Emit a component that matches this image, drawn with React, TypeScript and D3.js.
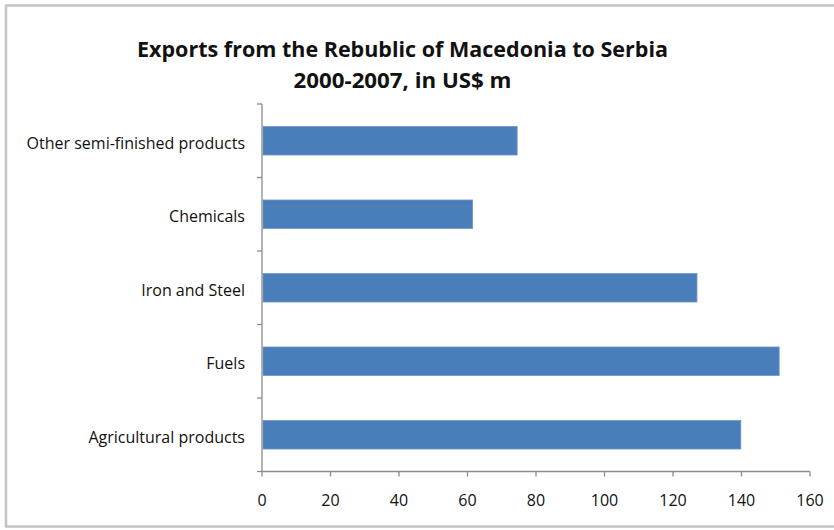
import React, { useEffect, useRef } from "react";
import * as d3 from "d3";

const categories = [
  "Other semi-finished products",
  "Chemicals",
  "Iron and Steel",
  "Fuels",
  "Agricultural products",
];
const values = [74.5, 61.5, 127, 151, 139.8];
const xTicks = [0, 20, 40, 60, 80, 100, 120, 140, 160];
const titleLines = ["Exports from the Rebublic of Macedonia to Serbia", "2000-2007, in US$ m"];

const W = 834;
const H = 530;

export default function App() {
  const ref = useRef<SVGSVGElement | null>(null);

  useEffect(() => {
    const svg = d3.select(ref.current);
    svg.selectAll("*").remove();

    const x = d3.scaleLinear().domain([0, 160]).range([262, 810]);
    const y = d3
      .scaleBand<string>()
      .domain(categories)
      .range([104, 471.5])
      .paddingInner(0.612)
      .paddingOuter(0.306);

    // border
    svg
      .append("rect")
      .attr("x", 6)
      .attr("y", 5.5)
      .attr("width", 840)
      .attr("height", 521)
      .attr("fill", "#ffffff")
      .attr("stroke", "#c4c4c4")
      .attr("stroke-width", 2.5);

    // title
    const title = svg
      .append("g")
      .attr("font-family", "'Open Sans', sans-serif")
      .attr("font-weight", "bold")
      .attr("fill", "#111");
    title
      .append("text")
      .attr("x", 402.5)
      .attr("y", 57)
      .attr("text-anchor", "middle")
      .attr("font-size", 21)
      .attr("textLength", 531)
      .attr("lengthAdjust", "spacingAndGlyphs")
      .text(titleLines[0]);
    title
      .append("text")
      .attr("x", 402.5)
      .attr("y", 88)
      .attr("text-anchor", "middle")
      .attr("font-size", 21)
      .attr("textLength", 218)
      .attr("lengthAdjust", "spacingAndGlyphs")
      .text(titleLines[1]);

    // bars
    svg
      .append("g")
      .selectAll("rect")
      .data(categories)
      .join("rect")
      .attr("x", x(0) + 1)
      .attr("y", (d) => y(d) as number)
      .attr("width", (d, i) => x(values[i]) - x(0) - 1)
      .attr("height", y.bandwidth())
      .attr("fill", "#4a7ebb")
      .attr("stroke", "#6f97c9")
      .attr("stroke-width", 0.8);

    const axisColor = "#8c8c8c";
    const [y0, y1] = y.range();
    const step = y.step();

    // y axis
    const ya = svg.append("g").attr("stroke", axisColor).attr("stroke-width", 1.3);
    ya.append("line").attr("x1", x(0)).attr("x2", x(0)).attr("y1", y0).attr("y2", y1);
    d3.range(categories.length + 1).forEach((i) => {
      ya.append("line")
        .attr("x1", x(0) - 5)
        .attr("x2", x(0))
        .attr("y1", y0 + i * step)
        .attr("y2", y0 + i * step);
    });

    // x axis
    const xa = svg.append("g").attr("stroke", axisColor).attr("stroke-width", 1.3);
    xa.append("line").attr("x1", x(0)).attr("x2", x(160)).attr("y1", y1).attr("y2", y1);
    xTicks.forEach((t) => {
      xa.append("line").attr("x1", x(t)).attr("x2", x(t)).attr("y1", y1).attr("y2", y1 + 5);
    });

    // x tick labels
    svg
      .append("g")
      .attr("font-family", "'Open Sans', sans-serif")
      .attr("font-size", 16)
      .attr("fill", "#111")
      .selectAll("text")
      .data(xTicks)
      .join("text")
      .attr("x", (d) => x(d))
      .attr("y", 506)
      .attr("text-anchor", "middle")
      .text((d) => String(d));

    // category labels
    svg
      .append("g")
      .attr("font-family", "'Open Sans', sans-serif")
      .attr("font-size", 16)
      .attr("fill", "#111")
      .selectAll("text")
      .data(categories)
      .join("text")
      .attr("x", 245)
      .attr("y", (d) => (y(d) as number) + y.bandwidth() / 2 + 8)
      .attr("text-anchor", "end")
      .text((d) => d);
  }, []);

  return (
    <svg
      ref={ref}
      width={W}
      height={H}
      style={{ position: "absolute", left: 0, top: 0, background: "#fff" }}
    />
  );
}
